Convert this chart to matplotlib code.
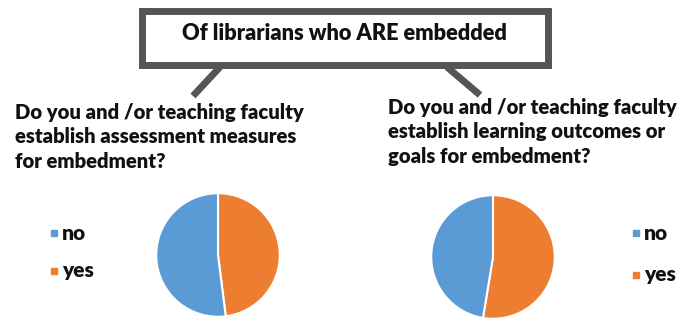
import matplotlib.pyplot as plt
from matplotlib.patches import Rectangle

## chart data
labels = ['no', 'yes']
colors = {'no': '#5B9BD5', 'yes': '#ED7D31'}
assess_vals = {'no': 52, 'yes': 48}      # assessment measures
outcome_vals = {'no': 47.4, 'yes': 52.6}  # learning outcomes / goals

title = 'Of librarians who ARE embedded'
q_left = 'Do you and /or teaching faculty\nestablish assessment measures\nfor embedment?'
q_right = 'Do you and /or teaching faculty\nestablish learning outcomes or\ngoals for embedment?'

W, H = 687, 318
plt.rcParams['font.family'] = ['Lato', 'DejaVu Sans']
fig = plt.figure(figsize=(W / 100, H / 100), dpi=100)

## overlay axes in pixel coords (y down)
ov = fig.add_axes([0, 0, 1, 1])
ov.set_xlim(0, W)
ov.set_ylim(H, 0)
ov.axis('off')

gray = '#555555'
ov.add_patch(Rectangle((141.5, 10.5), 406, 54, fill=False, edgecolor=gray, lw=5))
ov.plot([220, 193], [67, 96], color=gray, lw=5, solid_capstyle='butt')
ov.plot([447, 480], [67, 95], color=gray, lw=5, solid_capstyle='butt')
ov.text(344, 34, title, ha='center', va='center', fontsize=15.7, fontweight='heavy', color='#111111')

ov.text(15, 103, q_left, ha='left', va='top', fontsize=14.6, fontweight='heavy',
        color='#111111', linespacing=1.33)
ov.text(388, 98, q_right, ha='left', va='top', fontsize=14.6, fontweight='heavy',
        color='#111111', linespacing=1.33)


def draw_pie(cx, cy, r, vals):
    ax = fig.add_axes([(cx - r) / W, (H - (cy + r)) / H, 2 * r / W, 2 * r / H])
    order = ['yes', 'no']
    ax.pie([vals[k] for k in order], colors=[colors[k] for k in order],
           startangle=90, counterclock=False,
           wedgeprops=dict(edgecolor='white', linewidth=1.5))
    ax.set_xlim(-1.02, 1.02)
    ax.set_ylim(-1.02, 1.02)
    ax.set_aspect('equal')
    ax.axis('off')
    for w in ax.patches:
        w.set_clip_on(False)


def draw_legend(x, ys):
    for lab, y in zip(labels, ys):
        ov.plot(x, y, marker='s', ms=4.2, color=colors[lab], linestyle='none')
        ov.text(x + 8, y, lab, ha='left', va='center', fontsize=15,
                fontweight='heavy', color='#111111')


draw_pie(218, 255, 63, assess_vals)
draw_pie(493, 257, 63, outcome_vals)
draw_legend(54, [233, 271])
draw_legend(636, [233, 275])

fig.savefig('out.png', dpi=100)
